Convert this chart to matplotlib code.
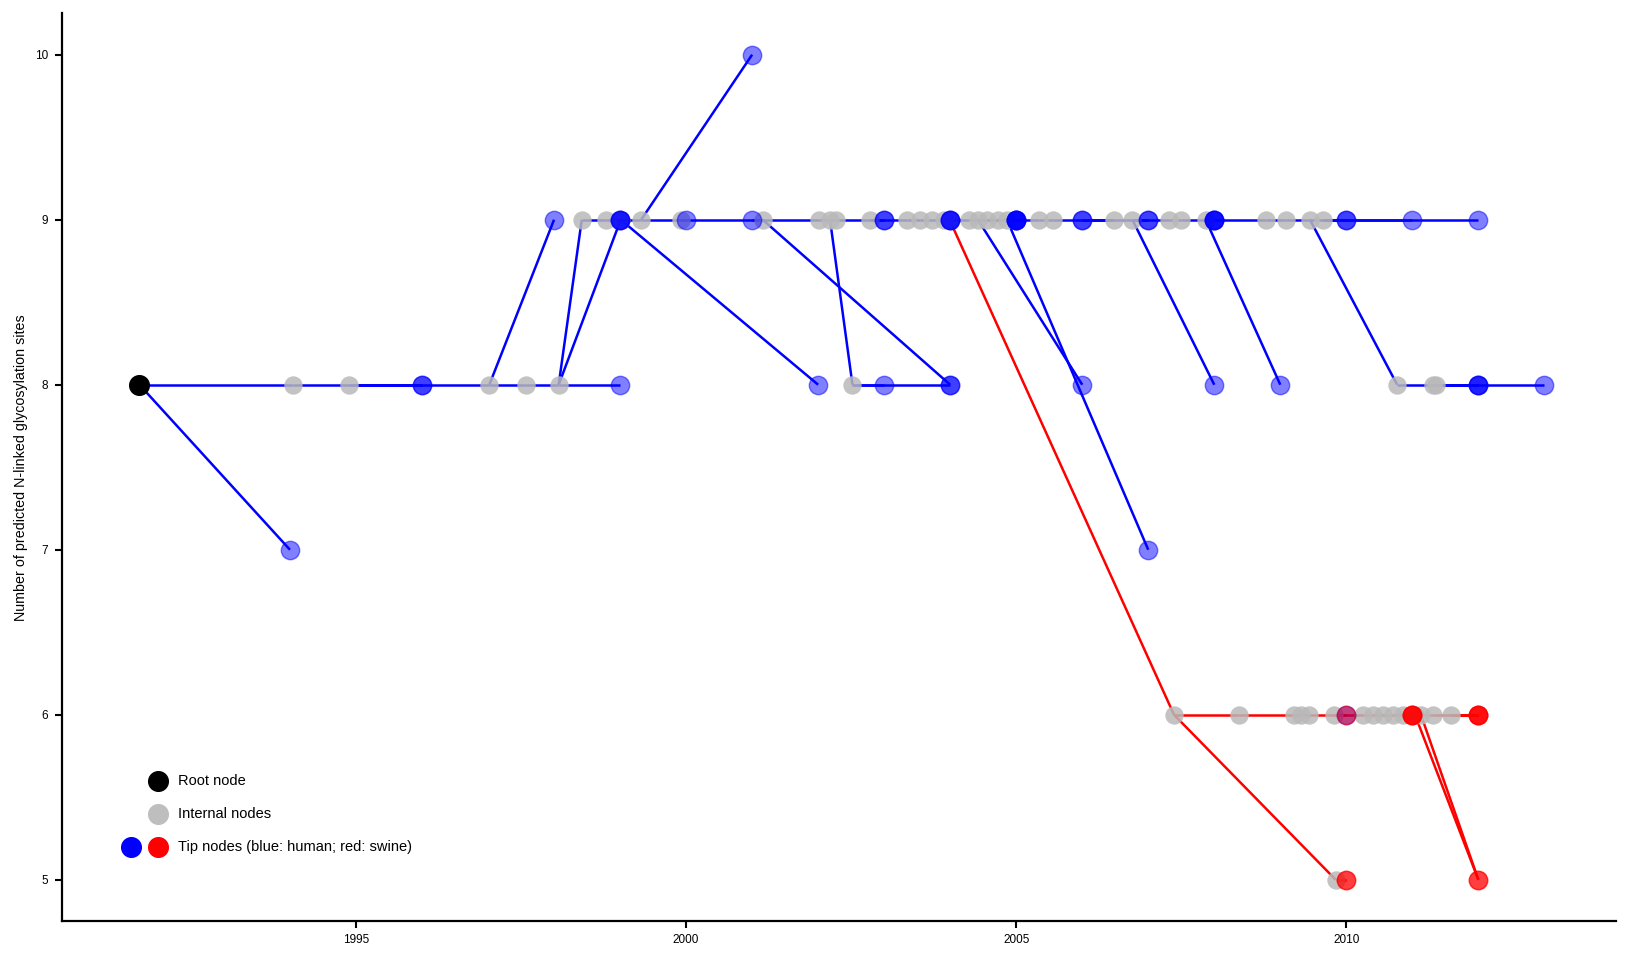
import matplotlib
matplotlib.use("Agg")
import matplotlib.pyplot as plt

plt.rcParams['font.family'] = ['Liberation Sans', 'DejaVu Sans']

# internal nodes of the tree: date, number of sites, parent index, clade (h=human, s=swine)
node_year = [1991.72, 1994.04, 1994.89, 1997.02, 1997.57, 1998.07,
             1998.42, 1998.78, 1999.01, 1999.32, 1999.92, 2001.16,
             2002.02, 2002.18, 2002.27, 2002.78, 2003.34, 2003.54,
             2003.72, 2003.90, 2003.99, 2004.28, 2004.42, 2004.56,
             2004.72, 2004.86, 2005.34, 2005.56, 2006.48, 2006.76,
             2007.31, 2007.49, 2007.87, 2008.78, 2009.08, 2009.45,
             2009.65,
             2007.39, 2008.37, 2009.21, 2009.31, 2009.43, 2009.81,
             2010.26, 2010.41, 2010.56, 2010.71, 2010.86, 2011.04,
             2011.13, 2011.32, 2011.58, 2009.84,
             2002.52, 2010.77, 2011.31, 2011.36]
node_sites = [8, 8, 8, 8, 8, 8,
              9, 9, 9, 9, 9, 9,
              9, 9, 9, 9, 9, 9,
              9, 9, 9, 9, 9, 9,
              9, 9, 9, 9, 9, 9,
              9, 9, 9, 9, 9, 9,
              9,
              6, 6, 6, 6, 6, 6,
              6, 6, 6, 6, 6, 6,
              6, 6, 6, 5,
              8, 8, 8, 8]
node_parent = [-1, 0, 1, 2, 3, 4,
               5, 6, 5, 7, 9, 10,
               11, 12, 13, 14, 15, 16,
               17, 18, 19, 20, 21, 22,
               23, 24, 25, 26, 27, 28,
               29, 30, 31, 32, 33, 34,
               35,
               20, 37, 38, 39, 40, 41,
               42, 43, 44, 45, 46, 47,
               48, 49, 50, 37,
               13, 35, 54, 55]
node_clade = ['h'] * 37 + ['s'] * 16 + ['h'] * 4

# tip nodes: date, number of sites, host, parent internal node
tip_year = [1994, 1996, 1996, 1999, 1998, 1999, 1999, 1999, 2000, 2001,
            2001, 2002, 2003, 2004, 2004, 2003, 2003, 2004, 2004, 2004,
            2005, 2005, 2005, 2005, 2005, 2006, 2006, 2007, 2007, 2008,
            2008, 2008, 2008, 2010, 2010, 2011, 2012, 2006, 2007, 2008,
            2009, 2012, 2012, 2012, 2013, 2010,
            2010, 2010, 2010, 2011, 2011, 2011, 2011, 2012, 2012, 2012,
            2012, 2012, 2012]
tip_sites = [7, 8, 8, 8, 9, 9, 9, 9, 9, 9,
             10, 8, 8, 8, 8, 9, 9, 9, 9, 9,
             9, 9, 9, 9, 9, 9, 9, 9, 9, 9,
             9, 9, 9, 9, 9, 9, 9, 8, 7, 8,
             8, 8, 8, 8, 8, 6,
             5, 5, 6, 6, 6, 6, 6, 6, 6, 6,
             6, 5, 5]
tip_host = ['human'] * 46 + ['swine'] * 13
tip_parent = [0, 2, 2, 5, 3, 8, 8, 8, 10, 11,
              9, 8, 53, 53, 11, 15, 15, 20, 20, 20,
              25, 25, 25, 25, 25, 28, 28, 29, 29, 32,
              32, 32, 32, 36, 36, 36, 36, 22, 25, 29,
              32, 56, 56, 56, 56, 42,
              52, 52, 42, 47, 47, 47, 47, 51, 51, 51,
              51, 48, 49]

clade_color = {'h': 'blue', 's': 'red'}
host_color = {'human': 'blue', 'swine': 'red'}

fig = plt.figure(figsize=(16.32, 9.6), dpi=100)
ax = fig.add_axes([0.0377, 0.0406, 0.9523, 0.9454])

# branches
for i, p in enumerate(node_parent):
    if p < 0:
        continue
    ax.plot([node_year[p], node_year[i]], [node_sites[p], node_sites[i]],
            color=clade_color[node_clade[i]], lw=1.8, zorder=1,
            solid_capstyle='butt')
for y, s, p in zip(tip_year, tip_sites, tip_parent):
    ax.plot([node_year[p], y], [node_sites[p], s],
            color=clade_color[node_clade[p]], lw=1.8, zorder=1,
            solid_capstyle='butt')

# internal nodes
ax.scatter(node_year[1:], node_sites[1:], s=175, color='#b9b9b9',
           alpha=0.85, linewidths=0, zorder=2)

# tips, blue first then red
for host in ['human', 'swine']:
    xs = [y for y, h in zip(tip_year, tip_host) if h == host]
    ys = [s for s, h in zip(tip_sites, tip_host) if h == host]
    for x, y in zip(xs, ys):
        ax.scatter([x], [y], s=175, color=host_color[host], alpha=0.5,
                   edgecolors=host_color[host], linewidths=1, zorder=3)

# root
ax.scatter(node_year[:1], node_sites[:1], s=200, color='black', zorder=4)

ax.set_xlim(1990.54, 2014.08)
ax.set_ylim(4.75, 10.25)
ax.set_xticks([1995, 2000, 2005, 2010])
ax.set_yticks([5, 6, 7, 8, 9, 10])
ax.tick_params(direction='out', length=5, width=1.5, labelsize=8.5, pad=4.5)
for side in ['top', 'right']:
    ax.spines[side].set_visible(False)
for side in ['left', 'bottom']:
    ax.spines[side].set_linewidth(1.6)
ax.set_ylabel('Number of predicted N-linked glycosylation sites', fontsize=10.3,
              labelpad=5)

# legend
tr = ax.transAxes
ax.scatter([0.0622], [0.1548], s=200, color='black', transform=tr, clip_on=False)
ax.scatter([0.0622], [0.1181], s=200, color='#bebebe', transform=tr, clip_on=False)
ax.scatter([0.0448], [0.0814], s=200, color='blue', transform=tr, clip_on=False)
ax.scatter([0.0622], [0.0814], s=200, color='red', transform=tr, clip_on=False)
ax.text(0.075, 0.1548, 'Root node', transform=tr, va='center', fontsize=10.5)
ax.text(0.075, 0.1181, 'Internal nodes', transform=tr, va='center', fontsize=10.5)
ax.text(0.075, 0.0814, 'Tip nodes (blue: human; red: swine)', transform=tr,
        va='center', fontsize=10.5)

fig.savefig('out.png', dpi=100)
